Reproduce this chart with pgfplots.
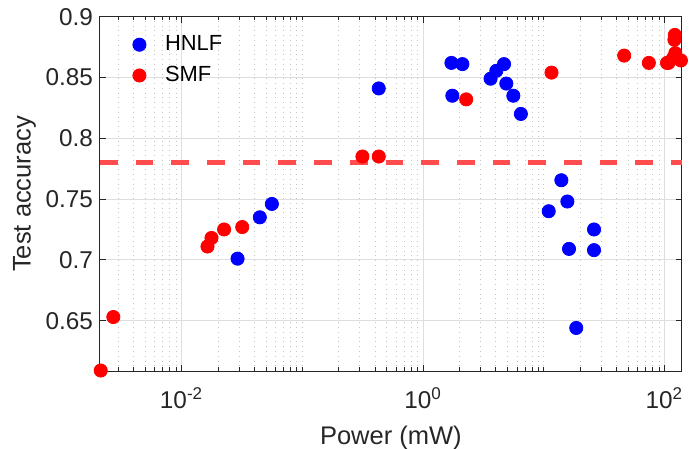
\documentclass[border=0pt]{standalone}
\usepackage{pgfplots}
\pgfplotsset{compat=1.18}
\usepackage{fontspec}
\setmainfont{Liberation Sans}
\definecolor{hblue}{RGB}{0,0,255}
\definecolor{sred}{RGB}{255,0,0}
\definecolor{dashred}{RGB}{255,77,77}
\definecolor{axgray}{RGB}{38,38,38}
\definecolor{gridgray}{RGB}{222,222,222}
\begin{document}
\begin{tikzpicture}
\begin{semilogxaxis}[
  scale only axis, width=290.85bp, height=177.15bp,
  xmin=0.00211, xmax=139, ymin=0.6086, ymax=0.9,
  clip=false,
  xtick={0.01,1,100},
  xticklabels={10\textsuperscript{-2},10\textsuperscript{0},10\textsuperscript{2}},
  minor xtick={0.003,0.004,0.005,0.006,0.007,0.008,0.009,
    0.02,0.03,0.04,0.05,0.06,0.07,0.08,0.09,0.1,
    0.2,0.3,0.4,0.5,0.6,0.7,0.8,0.9,
    2,3,4,5,6,7,8,9,10,20,30,40,50,60,70,80,90},
  ytick={0.65,0.7,0.75,0.8,0.85,0.9},
  yticklabels={0.65,0.7,0.75,0.8,0.85,0.9},
  tick label style={font=\fontsize{12.2}{14}\selectfont, text=axgray},
  xticklabel style={yshift=-5bp},
  label style={font=\fontsize{12.8}{14}\selectfont, text=axgray},
  xlabel style={yshift=-2bp},
  ylabel style={yshift=-2bp},
  xlabel={Power (mW)}, ylabel={Test accuracy},
  axis line style={axgray, line width=0.5bp},
  tick style={axgray, line width=0.4bp},
  major tick length=3bp, minor tick length=1.8bp,
  xmajorgrids, xminorgrids, ymajorgrids,
  major grid style={gridgray, line width=0.4bp},
  minor grid style={gray!45, line width=0.4bp, dotted},
  legend style={draw=none, fill=none, at={(0.0455,0.97)}, anchor=north west,
    font=\fontsize{11}{13}\selectfont, row sep=2.3bp},
  legend cell align=left,
]
\coordinate (ll) at (rel axis cs:0,0);
\coordinate (ur) at (rel axis cs:1,1);
\addplot[dashred, line width=2.2bp, dash pattern=on 8.85bp off 9bp, forget plot]
  coordinates {(0.00211,0.78) (139,0.78)};
\addplot[only marks, mark=*, mark size=3.3bp, color=hblue, mark options={fill=hblue, draw=hblue}]
  coordinates {
(0.0291,0.701) (0.0445,0.735) (0.056,0.746) (0.430,0.841)
(1.72,0.862) (2.12,0.861) (1.75,0.835) (3.63,0.849) (4.05,0.8555)
(4.69,0.861) (4.90,0.845) (5.60,0.835) (6.47,0.820)
(11.0,0.740) (14.0,0.7655) (15.7,0.748) (16.2,0.709) (18.6,0.644)
(26.1,0.725) (26.1,0.708)
};
\addlegendentry{\hspace{7.5bp}HNLF}
\addplot[only marks, mark=*, mark size=3.3bp, color=sred, mark options={fill=sred, draw=sred}]
  coordinates {
(0.00214,0.609) (0.00272,0.653) (0.0164,0.711) (0.0177,0.718)
(0.0225,0.725) (0.0318,0.727) (0.315,0.785) (0.430,0.785)
(2.28,0.832) (11.6,0.854) (46.4,0.868) (74.3,0.862)
(105,0.862) (108,0.862) (122,0.885) (121,0.881) (123,0.870)
(137,0.864) (118,0.866)
};
\addlegendentry{\hspace{7.5bp}SMF}
\end{semilogxaxis}
\pgfresetboundingbox
\path[use as bounding box] ([xshift=-50bp,yshift=-39bp]ll) rectangle ([xshift=9.15bp,yshift=8.35bp]ur);
\end{tikzpicture}
\end{document}
